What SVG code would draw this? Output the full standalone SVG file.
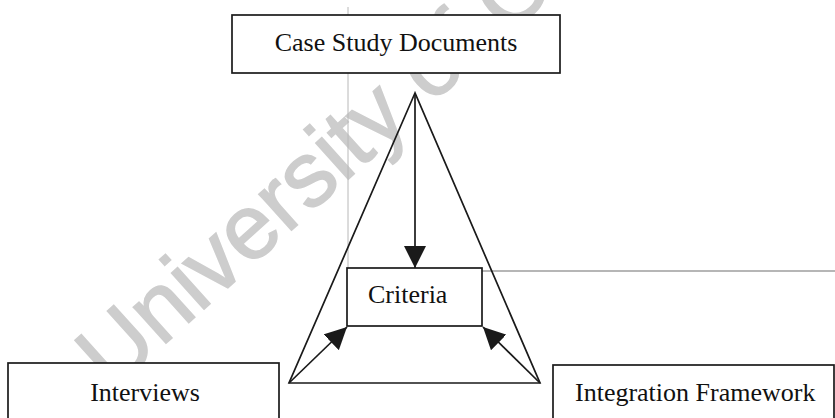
<svg xmlns="http://www.w3.org/2000/svg" width="835" height="418" viewBox="0 0 835 418">
  <defs>
    <marker id="ah" markerUnits="userSpaceOnUse" markerWidth="22" markerHeight="22" viewBox="0 0 20 20" refX="20" refY="10" orient="auto">
      <path d="M0,0 L20,10 L0,20 Z" fill="#1a1a1a"/>
    </marker>
    <style>
      .box { fill: #ffffff; stroke: #1a1a1a; stroke-width: 1.7; }
      .lbl { font-family: "Liberation Serif", "Times New Roman", serif; font-size: 26px; fill: #111111; }
      .ln { stroke: #1a1a1a; stroke-width: 1.7; fill: none; }
      .wm { font-family: "Liberation Sans", Arial, sans-serif; font-size: 92px; fill: #cdcdcd; stroke: #cdcdcd; stroke-width: 1.5; }
    </style>
  </defs>
  <rect width="835" height="418" fill="#ffffff"/>

  <g id="watermark">
    <text class="wm" transform="translate(112,392) rotate(-42)">University of C</text>
  </g>

  <g id="scan-lines">
    <line x1="348" y1="7" x2="348" y2="268" stroke="#b8b8b8" stroke-width="1"/>
    <line x1="482" y1="271" x2="835" y2="271" stroke="#6e6e6e" stroke-width="1.2"/>
  </g>

  <g id="case-study-documents">
    <rect class="box" x="232" y="15" width="328" height="58"/>
    <text class="lbl" x="396" y="51" text-anchor="middle">Case Study Documents</text>
  </g>

  <g id="criteria">
    <rect class="box" x="347" y="268" width="135" height="58"/>
    <text class="lbl" x="368" y="303">Criteria</text>
  </g>

  <g id="interviews">
    <rect class="box" x="8" y="363" width="271" height="70"/>
    <text class="lbl" x="145" y="401" text-anchor="middle">Interviews</text>
  </g>

  <g id="integration-framework">
    <rect class="box" x="553" y="365" width="281" height="70"/>
    <text class="lbl" x="575" y="401">Integration Framework</text>
  </g>

  <g id="connectors">
    <polygon class="ln" points="415,93 289,383 540,383"/>
    <line class="ln" x1="415" y1="93" x2="415" y2="268" marker-end="url(#ah)"/>
    <line class="ln" x1="289" y1="383" x2="347" y2="327" marker-end="url(#ah)"/>
    <line class="ln" x1="540" y1="383" x2="483" y2="327" marker-end="url(#ah)"/>
  </g>
</svg>
